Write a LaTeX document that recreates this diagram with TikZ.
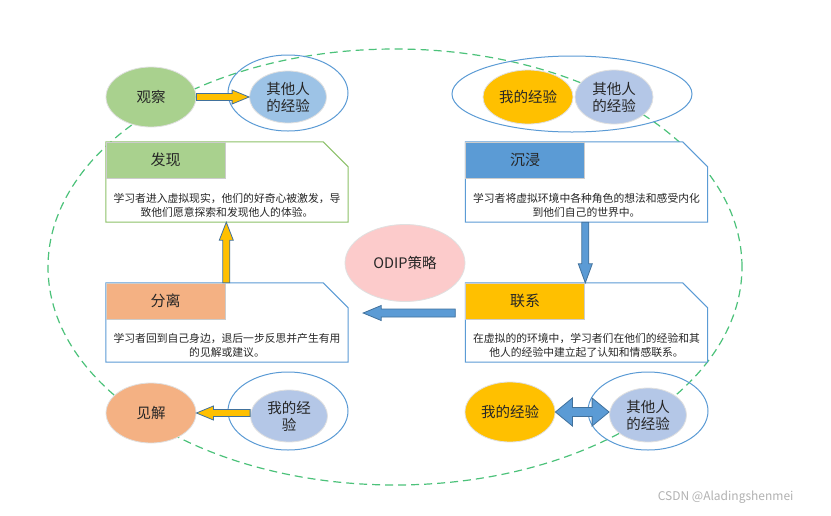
\documentclass[tikz,border=0pt]{standalone}
\usepackage{fontspec}
\setmainfont{Noto Sans CJK SC}
\usetikzlibrary{calc,shapes.geometric}
\definecolor{cgreen}{HTML}{A9D18E}
\definecolor{cgreenline}{HTML}{8CC168}
\definecolor{cblue}{HTML}{5B9BD5}
\definecolor{corange}{HTML}{F4B183}
\definecolor{cyellow}{HTML}{FFC000}
\definecolor{clblue}{HTML}{B4C7E7}
\definecolor{clblue2}{HTML}{9DC3E6}
\definecolor{cpink}{HTML}{FCCBCB}
\definecolor{cdash}{HTML}{4CC27A}
\definecolor{carrowline}{HTML}{41719C}
\definecolor{ctext}{HTML}{262626}
\tikzset{
  bubble/.style={ellipse, draw=black!12, line width=0.8pt, inner sep=0pt, text=ctext,
     font=\fontsize{14.5}{17}\selectfont, align=center},
  ring/.style={ellipse, draw=cblue, line width=1pt, inner sep=0pt},
  boxarea/.style={minimum width=242pt, minimum height=80pt, inner sep=0pt},
  header/.style={anchor=north west, minimum width=119pt, minimum height=36pt, inner sep=0pt,
     draw=black!20, line width=0.8pt, font=\fontsize{15}{17}\selectfont, text=ctext},
  bodytext/.style={align=center, inner sep=0pt,
     font=\fontsize{10.8}{14}\selectfont, text=ctext},
  boxline/.style={line width=1pt, fill=white},
}
\newcommand{\blockarrow}[6]{% start, end, shaft half, head half, head length, fill
  \coordinate (tmpH) at ($(#2)!#5!(#1)$);
  \fill[#6, draw=carrowline, line width=0.8pt, line join=miter]
    ($(#1)!#3!90:(#2)$) --
    ($(tmpH)!#3!-90:(#1)$) --
    ($(tmpH)!#4!-90:(#1)$) --
    (#2) --
    ($(tmpH)!#4!90:(#1)$) --
    ($(tmpH)!#3!90:(#1)$) --
    ($(#1)!#3!-90:(#2)$) -- cycle;}
\newcommand{\dblarrow}[6]{% A, B, shaft half, head half, head length, fill
  \coordinate (tmpA) at ($(#1)!#5!(#2)$);
  \coordinate (tmpB) at ($(#2)!#5!(#1)$);
  \fill[#6, draw=carrowline, line width=0.8pt, line join=miter]
    (#1) --
    ($(tmpA)!#4!90:(#2)$) --
    ($(tmpA)!#3!90:(#2)$) --
    ($(tmpB)!#3!-90:(#1)$) --
    ($(tmpB)!#4!-90:(#1)$) --
    (#2) --
    ($(tmpB)!#4!90:(#1)$) --
    ($(tmpB)!#3!90:(#1)$) --
    ($(tmpA)!#3!-90:(#2)$) --
    ($(tmpA)!#4!-90:(#2)$) -- cycle;}
\newcommand{\snipbox}[2]{% node name, colour
  \filldraw[boxline, draw=#2] (#1.north west) -- ($(#1.north east)+(-25pt,0pt)$) --
    ($(#1.north east)+(0pt,-25pt)$) -- (#1.south east) -- (#1.south west) -- cycle;}
\begin{document}
\begin{tikzpicture}[x=1pt,y=-1pt]
\useasboundingbox[fill=white] (0,0) rectangle (831,515);

% big dashed ellipse
\node[ellipse, draw=cdash, line width=1.2pt, dash pattern=on 8pt off 5pt,
      minimum width=694pt, minimum height=436pt, inner sep=0pt] (big) at (395,267) {};

% boxes
\node[boxarea] (fx) at (227,182) {};
\node[boxarea] (cj) at (586.5,182) {};
\node[boxarea, minimum height=79pt] (fl) at (227,322.5) {};
\node[boxarea, minimum height=79pt] (lx) at (586.5,322.5) {};
\snipbox{fx}{cgreenline}
\snipbox{cj}{cblue}
\snipbox{fl}{cblue}
\snipbox{lx}{cblue}
\node[header, fill=cgreen] (fxh) at (fx.north west) {发现};
\node[header, fill=cblue] (cjh) at (cj.north west) {沉浸};
\node[header, fill=corange] (flh) at (fl.north west) {分离};
\node[header, fill=cyellow] (lxh) at (lx.north west) {联系};
\node[bodytext] (fxt) at ($(fx.south)+(0pt,17pt)$) {学习者进入虚拟现实，他们的好奇心被激发，导\\致他们愿意探索和发现他人的体验。};
\node[bodytext] (cjt) at ($(cj.south)+(0pt,17pt)$) {学习者将虚拟环境中各种角色的想法和感受内化\\到他们自己的世界中。};
\node[bodytext] (flt) at ($(fl.south)+(0pt,17pt)$) {学习者回到自己身边，退后一步反思并产生有用\\的见解或建议。};
\node[bodytext] (lxt) at ($(lx.south)+(0pt,17pt)$) {在虚拟的的环境中，学习者们在他们的经验和其\\他人的经验中建立起了认知和情感联系。};

% centre
\node[bubble, fill=cpink, minimum width=120pt, minimum height=77pt] (odip) at (405,263) {ODIP策略};

% top left
\node[bubble, fill=cgreen, minimum width=90pt, minimum height=60pt] (obs) at (151,97) {观察};
\node[ring, minimum width=120pt, minimum height=76pt] (r1) at (288,93) {};
\node[bubble, fill=clblue2, minimum width=77pt, minimum height=52pt] (oth1) at (288,97) {其他人\\的经验};

% top right
\node[ring, minimum width=240pt, minimum height=76pt] (r2) at (572,94) {};
\node[bubble, fill=cyellow, minimum width=90pt, minimum height=54pt] (my2) at (528,97) {我的经验};
\node[bubble, fill=clblue, minimum width=78pt, minimum height=54pt] (oth2) at (614,97) {其他人\\的经验};

% bottom left
\node[bubble, fill=corange, minimum width=90pt, minimum height=60pt] (ins) at (151,413) {见解};
\node[ring, minimum width=120pt, minimum height=78pt] (r3) at (288,411) {};
\node[bubble, fill=clblue, minimum width=77pt, minimum height=52pt] (me3) at (289,416) {我的经\\验};

% bottom right
\node[bubble, fill=cyellow, minimum width=90pt, minimum height=60pt] (my4) at (510,412) {我的经验};
\node[ring, minimum width=120pt, minimum height=78pt] (r4) at (648,411) {};
\node[bubble, fill=clblue, minimum width=77pt, minimum height=54pt] (oth4) at (648,415) {其他人\\的经验};

% arrows
\blockarrow{obs.east}{oth1.west}{3.5pt}{7pt}{17pt}{cyellow}
\coordinate (a3s) at (ins.east -| me3.west);
\blockarrow{a3s}{ins.east}{3.5pt}{7pt}{17pt}{cyellow}
\coordinate (a4e) at (my4.east -| oth4.west);
\dblarrow{my4.east}{a4e}{4.5pt}{14pt}{17pt}{cblue}

\coordinate (a5s) at ($(fl.north west)+(120.5pt,0pt)$);
\coordinate (a5e) at ($(fx.south west)+(120.5pt,0pt)$);
\blockarrow{a5s}{a5e}{3.5pt}{7pt}{18pt}{cyellow}
\coordinate (a6s) at ($(cj.south west)+(120pt,0pt)$);
\coordinate (a6e) at ($(lx.north west)+(120pt,0pt)$);
\blockarrow{a6s}{a6e}{3.5pt}{7pt}{19pt}{cblue}
\coordinate (a7s) at ($(lx.west)+(-10pt,9.5pt)$);
\coordinate (a7e) at ($(fl.east)+(15pt,9.5pt)$);
\blockarrow{a7s}{a7e}{4pt}{7.5pt}{18pt}{cblue}

% watermark
\node[font=\fontsize{12}{14}\selectfont, text=black!30, anchor=east] (wm) at (797,497) {CSDN @Aladingshenmei};
\end{tikzpicture}
\end{document}
